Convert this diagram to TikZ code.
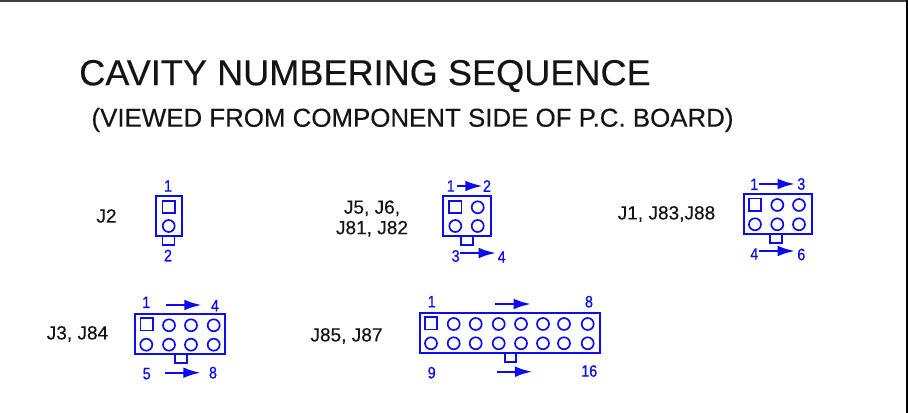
\documentclass[tikz,border=0pt]{standalone}
\usepackage{fontspec}
\setmainfont{Liberation Sans}
\newfontfamily\numfont[FakeBold=0.5,FakeStretch=0.86]{Liberation Sans}
\newfontfamily\headfont[FakeBold=0.25]{Liberation Sans}
\usetikzlibrary{arrows.meta}
\definecolor{pinblue}{RGB}{12,12,240}
\definecolor{inkblack}{RGB}{20,20,20}
\tikzset{
  x=0.75pt,y=-0.75pt,
  body/.style={draw=pinblue,line width=1.45pt},
  pinshape/.style={draw=pinblue,line width=1.25pt},
  dirarrow/.style={draw=pinblue,line width=1.7pt,-{Latex[length=13pt,width=8pt]},fill=pinblue},
  numlabel/.style={text=pinblue,font=\numfont\fontsize{12.4}{13}\selectfont,inner sep=0pt,anchor=center},
  conname/.style={text=inkblack,font=\headfont\fontsize{14.3}{15.4}\selectfont,inner sep=0pt,anchor=center,align=center},
}
\newcommand{\pinc}[2]{\draw[pinshape] (#1,#2) circle[radius=6];}
\newcommand{\pins}[2]{\draw[pinshape] (#1,#2) rectangle ++(12.3,12.2);}
\begin{document}
\begin{tikzpicture}
\useasboundingbox (0,0) rectangle (908,413);
\fill[white] (0,0) rectangle (908,413);
\fill[black!75] (0,0) rectangle (908,1.6);
\fill[black] (906,0) rectangle (908,413);
\node[text=inkblack,font=\headfont\fontsize{27.1}{30}\selectfont,inner sep=0pt] (title) at (365,76) {CAVITY NUMBERING SEQUENCE};
\node[text=inkblack,font=\headfont\fontsize{19.4}{22}\selectfont,inner sep=0pt] (subtitle) at (412.5,120) {(VIEWED FROM COMPONENT SIDE OF P.C. BOARD)};
% J2
\node[conname] (capJ2) at (106.5,216) {J2};
\draw[body] (155.7,196) rectangle (181.7,236);
\pins{162.6}{200.7}
\pinc{168.7}{226}
\draw[pinshape] (162.6,236) rectangle (174.4,245);
\node[numlabel] (a1) at (168,186) {1};
\node[numlabel] (a2) at (168,255.5) {2};
% J5
\node[conname] (capJ5) at (372,218.5) {J5, J6,\\J81, J82};
\draw[body] (443.3,196) rectangle (491,236);
\pins{449.3}{200.7}
\pinc{477.7}{207.3}
\pinc{455.3}{226}
\pinc{477.7}{226}
\draw[pinshape] (461.3,236) rectangle (472.7,245);
\node[numlabel] (b1) at (450.7,186) {1};
\node[numlabel] (b2) at (487,186) {2};
\node[numlabel] (b3) at (455.7,256) {3};
\node[numlabel] (b4) at (501.7,257) {4};
\coordinate (b1r) at (456.7,186); \coordinate (b2l) at (482.7,186);
\coordinate (b3r) at (460,253); \coordinate (b4l) at (496,253);
\draw[dirarrow] (b1r) -- (b2l);
\draw[dirarrow] (b3r) -- (b4l);
% J1
\node[conname] (capJ1) at (666.5,214) {J1, J83,J88};
\draw[body] (743.7,194.3) rectangle (811.7,233.7);
\pins{749}{198.6}
\pinc{777.3}{205}
\pinc{799}{205}
\pinc{755}{224.3}
\pinc{777.3}{224.3}
\pinc{799}{224.3}
\draw[pinshape] (770.3,233.7) rectangle (782,243);
\node[numlabel] (c1) at (754.3,184.3) {1};
\node[numlabel] (c3) at (801.3,184) {3};
\node[numlabel] (c4) at (754.3,254) {4};
\node[numlabel] (c6) at (801.3,254.5) {6};
\coordinate (c1r) at (759.3,184); \coordinate (c3l) at (795,184);
\coordinate (c4r) at (759.3,251); \coordinate (c6l) at (795,251);
\draw[dirarrow] (c1r) -- (c3l);
\draw[dirarrow] (c4r) -- (c6l);
% J3
\node[conname] (capJ3) at (77.5,334) {J3, J84};
\draw[body] (135,314.3) rectangle (225,354);
\pins{140.4}{318.3}
\pinc{169}{325.3}
\pinc{191}{325.3}
\pinc{213.7}{325.3}
\pinc{146.3}{344.7}
\pinc{169}{344.7}
\pinc{191}{344.7}
\pinc{213.7}{344.7}
\draw[pinshape] (175,354) rectangle (186.7,363);
\node[numlabel] (d1) at (146.3,302.3) {1};
\node[numlabel] (d4) at (215,305.7) {4};
\node[numlabel] (d5) at (146.7,373.7) {5};
\node[numlabel] (d8) at (213,372.7) {8};
\coordinate (d1r) at (166,305); \coordinate (d4l) at (201.7,305);
\coordinate (d5r) at (165,372.7); \coordinate (d8l) at (200.7,372.7);
\draw[dirarrow] (d1r) -- (d4l);
\draw[dirarrow] (d5r) -- (d8l);
% J85
\node[conname] (capJ85) at (346.5,336) {J85, J87};
\draw[body] (419.7,313.3) rectangle (600.3,353);
\pins{425}{317.3}
\foreach \cx in {453.7,475.7,498.7,521,543,564,587.7}{\pinc{\cx}{324}}
\foreach \cx in {431,453.7,475.7,498.7,521,543,564,587.7}{\pinc{\cx}{343.3}}
\draw[pinshape] (504.7,353) rectangle (516.3,362);
\node[numlabel] (e1) at (431.7,301.7) {1};
\node[numlabel] (e8) at (589,301.7) {8};
\node[numlabel] (e9) at (431.7,372.7) {9};
\node[numlabel] (e16) at (589.3,371) {16};
\coordinate (e1r) at (495.3,304); \coordinate (e8l) at (531,304);
\coordinate (e9r) at (496.7,371.7); \coordinate (e16l) at (532.3,371.7);
\draw[dirarrow] (e1r) -- (e8l);
\draw[dirarrow] (e9r) -- (e16l);
\end{tikzpicture}
\end{document}
